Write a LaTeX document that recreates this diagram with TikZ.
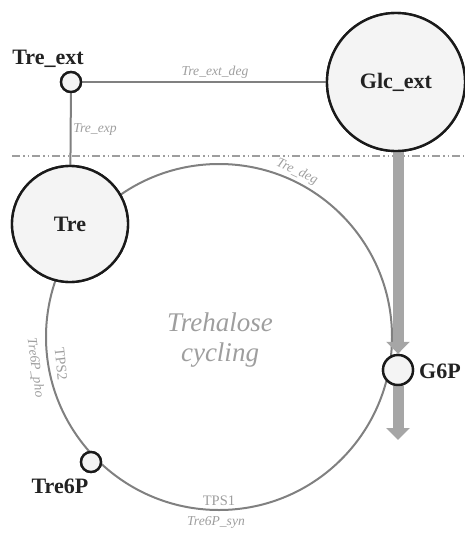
\documentclass[tikz,border=0pt]{standalone}
\usepackage{fontspec}
\setmainfont{Liberation Serif}
\usetikzlibrary{arrows.meta}
\definecolor{edgegray}{HTML}{808080}
\definecolor{labgray}{HTML}{9E9E9E}
\definecolor{arrgray}{HTML}{A6A6A6}
\definecolor{nodefill}{HTML}{F4F4F4}
\definecolor{nodeline}{HTML}{1A1A1A}
\definecolor{txt}{HTML}{222222}
\tikzset{
  met/.style={circle, draw=nodeline, line width=2.4pt, fill=nodefill, inner sep=0pt,
    text=txt, font=\fontsize{22}{24}\selectfont\bfseries},
  metlab/.style={text=txt, font=\fontsize{22}{24}\selectfont\bfseries, inner sep=0pt, anchor=base},
  rxn/.style={draw=edgegray, line width=2pt},
  rlab/.style={text=labgray, font=\fontsize{13.6}{15}\selectfont\itshape, inner sep=0pt},
  elab/.style={text=labgray, font=\fontsize{14.5}{15}\selectfont, inner sep=0pt},
  bigarrow/.style={draw=arrgray, line width=11pt, -{Triangle[width=23pt,length=12pt]}},
  membrane/.style={draw=labgray, line width=1.3pt, dash pattern=on 8pt off 3pt on 1.5pt off 3pt on 1.5pt off 3pt},
}
\begin{document}
\begin{tikzpicture}[x=1pt,y=-1pt]
\useasboundingbox (0,0) rectangle (464,535);
% membrane
\coordinate (mL) at (12,156);
\coordinate (mR) at (464,156);
\draw[membrane] (mL) -- (mR);
% cycle circle
\coordinate (cc) at (219,337);
\draw[rxn] (cc) circle[radius=173];
% nodes (positions)
\node[met, minimum size=20pt] (treext) at (71,82) {};
\node[met, minimum size=138pt] (glcext) at (396,82) {Glc\_ext};
\node[met, minimum size=116pt] (tre) at (70,224) {Tre};
\node[met, minimum size=30pt] (g6p) at (398,370) {};
\node[met, minimum size=20pt] (tre6p) at (91,462) {};
% edges
\draw[rxn] (treext) -- (glcext);
\draw[rxn] (treext) -- (tre);
% big flux arrow
\coordinate (sink) at (398,440);
\draw[bigarrow] (g6p |- glcext.south) -- (g6p.north);
\draw[bigarrow] (g6p.south) -- (sink);
% redraw nodes on top
\node[met, minimum size=20pt] at (treext) {};
\node[met, minimum size=138pt] at (glcext) {Glc\_ext};
\node[met, minimum size=116pt] at (tre) {Tre};
\node[met, minimum size=30pt] at (g6p) {};
\node[met, minimum size=20pt] at (tre6p) {};
% metabolite labels
\node[metlab] (l1) at (48,65) {Tre\_ext};
\node[metlab] (l2) at (440,378) {G6P};
\node[metlab] (l3) at (60,493) {Tre6P};
% reaction labels
\node[rlab] (r1) at (215,72) {Tre\_ext\_deg};
\node[rlab] (r2) at (95,129) {Tre\_exp};
\node[rlab, rotate=-25] (r3) at (297,172) {Tre\_deg};
\node[elab, rotate=-84] (r4) at (61,364) {TPS2};
\node[rlab, rotate=-82] (r5) at (35,368) {Tre6P\_pho};
\node[elab] (r6) at (219,501) {TPS1};
\node[rlab] (r7) at (216,522) {Tre6P\_syn};
% title
\node[text=labgray, font=\fontsize{27}{30}\selectfont\itshape, align=center, inner sep=0pt] (title) at (220,340) {Trehalose\\cycling};
\end{tikzpicture}
\end{document}
